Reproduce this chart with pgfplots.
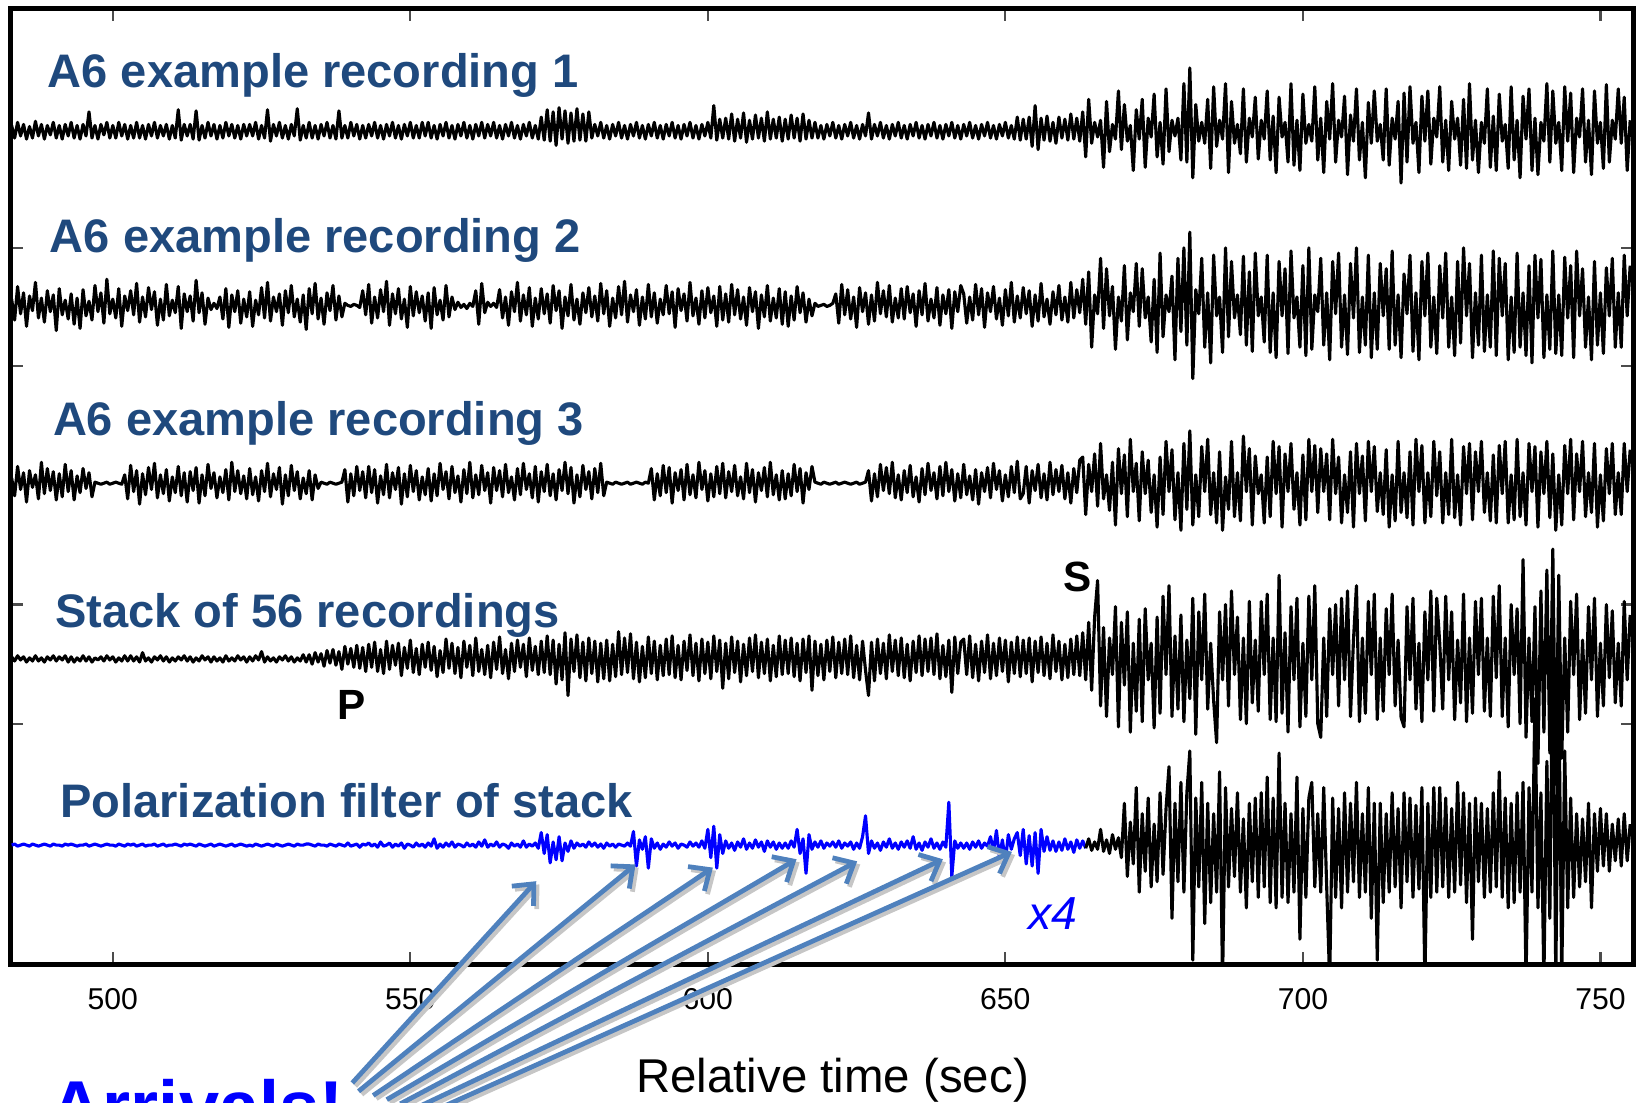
\documentclass[border=0pt]{standalone}
\usepackage{pgfplots}
\pgfplotsset{compat=1.18}
\usepackage{pgfplotstable}
\usepackage{fontspec}
\setmainfont{Liberation Sans}
\usetikzlibrary{arrows.meta}
\definecolor{labelblue}{HTML}{1F497D}
\definecolor{arrowblue}{HTML}{4F81BD}

% t = time (s); a..e = trace offsets (rec1, rec2, rec3, stack, polarization)
\pgfplotstableread{
t a b c d e
483.0 5 6 5 2 0
483.5 -7 -14 -12 -2 1
484.0 8 18 16 3 -1
484.5 -5 -8 -6 -1 0
485.0 6 12 10 2 1
485.5 -8 -20 -18 -3 0
486.0 4 9 12 1 -1
486.5 -7 -5 -4 -2 1
487.0 9 22 8 3 0
487.5 -5 -12 -15 -2 -1
488.0 6 7 20 1 0
488.5 -8 -16 -10 -3 1
489.0 5 14 14 2 0
489.5 -4 -6 -7 -1 -1
490.0 8 10 11 3 1
490.5 -7 -24 -16 -2 0
491.0 5 16 9 2 0
491.5 -8 -9 -13 -1 -1
492.0 6 5 18 3 1
492.5 -5 -13 -8 -3 0
493.0 8 11 12 2 1
493.5 -7 -18 -16 -3 0
494.0 5 7 7 1 -1
494.5 -8 -22 -9 -2 0
495.0 6 15 14 3 0
495.5 -5 -10 -5 -2 1
496.0 18 4 10 2 -1
496.5 -7 -14 -13 -3 0
497.0 5 19 1 1 1
497.5 -8 -6 0 -1 0
498.0 6 12 -1 2 -1
498.5 -4 -17 0 -2 0
499.0 8 25 1 3 1
499.5 -7 -8 -1 -1 0
500.0 5 6 0 2 0
500.5 -7 -12 1 -3 -1
501.0 8 16 0 1 1
501.5 -5 -20 -1 -2 0
502.0 6 9 8 3 -1
502.5 -8 -5 -15 -2 1
503.0 5 14 17 3 0
503.5 -7 -9 -8 -2 1
504.0 8 21 12 2 -1
504.5 -7 -16 -20 -3 0
505.0 5 8 9 6 1
505.5 -8 -11 -11 -2 -1
506.0 6 17 15 1 0
506.5 -5 -4 -6 -3 0
507.0 8 13 19 2 1
507.5 -7 -19 -14 -1 -1
508.0 5 6 8 3 0
508.5 -5 -14 -10 -2 1
509.0 6 20 13 2 -1
509.5 -8 -10 -17 -3 0
510.0 5 5 6 1 0
510.5 -7 -7 -9 -2 1
511.0 20 18 16 2 0
511.5 -9 -22 -12 -1 -1
512.0 6 11 10 3 1
512.5 -5 -6 -18 -2 0
513.0 6 9 11 2 1
513.5 -8 -15 -7 -3 0
514.0 19 24 15 1 -1
514.5 -9 -7 -19 -2 1
515.0 5 12 8 3 0
515.5 -7 -18 -12 -1 -1
516.0 8 7 18 2 0
516.5 -5 -4 -5 -3 1
517.0 6 2 10 2 -1
517.5 -8 -3 -14 -2 0
518.0 5 8 6 1 1
518.5 -7 -13 -9 -3 0
519.0 8 16 13 3 -1
519.5 -5 -21 -16 -2 0
520.0 6 10 20 1 1
520.5 -7 -6 -8 -2 -1
521.0 5 14 12 3 0
521.5 -8 -17 -10 -1 1
522.0 6 6 7 2 0
522.5 -5 -11 -15 -3 -1
523.0 6 13 14 2 0
523.5 -5 -20 -11 -2 -1
524.0 8 5 6 3 1
524.5 -8 -9 -17 -1 0
525.0 5 17 12 7 -1
525.5 -7 -12 -8 -3 0
526.0 20 22 19 2 1
526.5 -10 -15 -13 -2 0
527.0 6 8 9 1 -1
527.5 -5 -6 -6 -3 1
528.0 8 11 15 2 0
528.5 -7 -19 -20 -1 -1
529.0 5 14 8 3 0
529.5 -8 -7 -12 -2 1
530.0 6 19 17 2 0
530.5 -5 -11 -7 -3 -1
531.0 21 6 11 1 1
531.5 -9 -16 -15 -2 0
532.0 5 10 5 4 0
532.5 -7 -23 -10 -3 1
533.0 8 16 12 4 1
533.5 -7 -8 -16 -5 0
534.0 5 21 8 6 -1
534.5 -8 -13 -5 -3 1
535.0 6 7 1 5 0
535.5 -5 -18 0 -7 0
536.0 8 12 -1 8 -1
536.5 -7 -5 1 -4 1
537.0 5 19 0 9 0
537.5 -8 -14 -1 -6 -1
538.0 19 9 0 7 1
538.5 -7 -11 1 -10 0
539.0 5 2 13 12 -1
539.5 -7 0 -18 -5 2
540.0 8 -1 9 10 -1
540.5 -5 1 -12 -8 0
541.0 6 0 16 13 1
541.5 -8 -2 -7 -9 -2
542.0 5 14 11 11 1
542.5 -7 -9 -14 -12 0
543.0 6 20 16 14 2
543.5 -5 -17 -9 -8 -1
544.0 8 8 13 16 1
544.5 -7 -12 -19 -12 -2
545.0 5 15 7 9 3
545.5 -8 -6 -11 -14 -1
546.0 6 23 18 17 0
546.5 -5 -19 -14 -10 2
547.0 8 11 10 13 -2
547.5 -7 -8 -6 -6 1
548.0 5 16 15 15 -1
548.5 -8 -13 -20 -16 2
549.0 6 6 9 11 -3
549.5 -5 -21 -13 -9 1
550.0 8 18 17 18 0
550.5 -7 -10 -8 -13 -2
551.0 5 13 12 10 2
551.5 -7 -7 -16 -15 -1
552.0 8 9 6 14 1
552.5 -5 -15 -11 -8 -2
553.0 8 12 14 16 2
553.5 -7 -22 -17 -11 -1
554.0 5 17 9 12 6
554.5 -8 -9 -12 -17 -3
555.0 6 5 19 8 1
555.5 -5 -14 -6 -13 -2
556.0 8 19 11 19 2
556.5 -7 -11 -15 -9 -1
557.0 5 8 16 15 3
557.5 -8 -4 -9 -14 -2
558.0 6 3 7 11 1
558.5 -5 -2 -18 -18 0
559.0 8 1 13 17 -2
559.5 -7 -3 -10 -8 2
560.0 5 2 20 13 -1
560.5 -8 -1 -14 -16 1
561.0 6 14 8 20 -2
561.5 -5 -18 -11 -12 3
562.0 8 21 17 9 -1
562.5 -7 -7 -7 -15 5
563.0 6 3 10 13 -2
563.5 -5 -1 -19 -18 1
564.0 8 2 15 16 -1
564.5 -7 -2 -7 -10 3
565.0 5 15 12 21 -2
565.5 -8 -12 -13 -14 1
566.0 6 8 18 9 0
566.5 -5 -19 -9 -19 -3
567.0 8 13 6 15 2
567.5 -7 -6 -16 -12 -1
568.0 5 22 14 18 1
568.5 -8 -15 -11 -8 -2
569.0 6 10 19 14 4
569.5 -5 -9 -6 -17 -2
570.0 8 17 9 20 1
570.5 -7 -20 -14 -11 -1
571.0 5 7 16 12 2
571.5 -8 -13 -18 -15 -3
572.0 13 16 11 17 12
572.5 -9 -8 -8 -13 -8
573.0 20 11 18 22 10
573.5 -10 -17 -12 -15 -17
574.0 18 19 9 18 3
574.5 -14 -5 -16 -24 -14
575.0 22 14 13 14 8
575.5 -8 -22 -7 -20 -15
576.0 19 8 20 25 2
576.5 -12 -10 -10 -35 -6
577.0 17 20 15 19 4
577.5 -10 -14 -19 -12 -3
578.0 21 6 8 23 2
578.5 -9 -18 -13 -18 -1
579.0 16 12 17 16 1
579.5 -10 -7 -6 -21 -2
580.0 18 17 11 20 3
580.5 -7 -11 -15 -14 -1
581.0 6 9 14 17 2
581.5 -5 -15 -9 -22 -2
582.0 8 21 19 15 1
582.5 -7 -8 -12 -19 -3
583.0 5 14 1 18 2
583.5 -8 -20 0 -21 -1
584.0 6 7 -1 14 1
584.5 -5 -12 1 -17 -2
585.0 8 18 0 26 1
585.5 -7 -9 -1 -15 0
586.0 5 23 0 20 -1
586.5 -8 -16 1 -13 2
587.0 6 10 -1 24 -1
587.5 -5 -6 0 -19 13
588.0 8 15 1 16 -20
588.5 -7 -19 0 -22 5
589.0 5 8 -1 12 -4
589.5 -8 -13 1 -18 8
590.0 6 20 0 21 -22
590.5 -5 -11 14 -14 6
591.0 8 12 -16 17 -3
591.5 -7 -17 9 -20 2
592.0 5 6 -12 13 -4
592.5 -8 -9 17 -16 1
593.0 6 19 -9 19 -2
593.5 -5 -8 15 -15 3
594.0 8 13 -19 22 -1
594.5 -7 -21 10 -18 2
595.0 5 16 -7 13 -3
595.5 -8 -5 13 -20 1
596.0 6 11 -16 17 0
596.5 -5 -15 18 -11 -2
597.0 8 22 -11 23 3
597.5 -7 -10 8 -16 -1
598.0 5 7 -14 15 2
598.5 -8 -18 20 -21 -2
599.0 6 14 -6 19 4
599.5 -5 -12 12 -14 -3
600.0 8 17 -17 16 15
600.5 -7 -7 9 -19 -12
601.0 24 9 -13 22 18
601.5 -9 -20 16 -12 -22
602.0 11 18 -10 18 10
602.5 -7 -14 19 -28 -8
603.0 12 11 -14 15 4
603.5 -8 -16 11 -19 -3
604.0 16 20 -8 21 2
604.5 -10 -9 17 -13 -5
605.0 11 15 -12 17 3
605.5 -7 -13 6 -22 -2
606.0 17 8 -15 14 6
606.5 -11 -19 19 -16 -4
607.0 10 17 -9 20 2
607.5 -8 -6 13 -12 -3
608.0 15 13 -18 23 5
608.5 -7 -22 10 -18 -2
609.0 12 10 -7 16 3
609.5 -10 -11 15 -14 -6
610.0 18 19 -13 19 4
610.5 -8 -15 20 -21 -2
611.0 11 7 -11 13 3
611.5 -7 -12 8 -17 -4
612.0 13 16 -16 22 2
612.5 -10 -18 12 -15 -3
613.0 11 13 -15 18 2
613.5 -8 -20 9 -14 -3
614.0 15 9 -12 20 4
614.5 -7 -14 18 -17 -2
615.0 12 18 -8 15 15
615.5 -10 -7 14 -21 -8
616.0 16 12 -19 19 6
616.5 -8 -16 10 -13 -27
617.0 10 6 -6 22 10
617.5 -7 -10 16 -30 -4
618.0 8 2 1 17 3
618.5 -7 -1 0 -16 -2
619.0 5 0 -1 14 4
619.5 -8 1 1 -20 -3
620.0 6 -1 0 18 2
620.5 -5 0 -1 -12 -1
621.0 8 2 0 21 3
621.5 -7 11 1 -18 -2
622.0 5 -17 -1 16 4
622.5 -8 20 0 -14 -3
623.0 6 -9 1 19 2
623.5 -5 15 0 -15 -1
624.0 8 -13 -1 22 3
624.5 -7 8 0 -18 -4
625.0 5 -21 1 13 2
625.5 -8 17 -1 -20 -3
626.0 6 -6 0 17 8
626.5 -5 12 1 -11 28
627.0 17 -18 12 -35 -8
627.5 -8 10 -17 16 4
628.0 6 -15 9 -21 -3
628.5 -5 22 -13 19 2
629.0 8 -8 18 -14 -5
629.5 -7 14 -7 15 3
630.0 5 -11 15 -19 -2
630.5 -8 19 -10 23 6
631.0 6 -16 20 -12 -3
631.5 -5 7 -14 18 2
632.0 8 -12 8 -16 -4
632.5 -7 16 -16 20 3
633.0 5 -13 12 -18 -2
633.5 -8 18 -9 14 4
634.0 6 -7 17 -21 -3
634.5 -5 11 -13 17 8
635.0 8 -20 6 -13 -4
635.5 -7 14 -18 22 2
636.0 5 -9 14 -16 -5
636.5 -8 21 -11 19 3
637.0 6 -15 19 -12 -2
637.5 -5 6 -7 20 6
638.0 8 -12 10 -15 -3
638.5 -7 17 -15 24 2
639.0 5 -19 16 -19 -4
639.5 -8 10 -12 13 3
640.0 6 -8 20 -17 -2
640.5 -5 15 -8 18 41
641.0 8 -22 13 -32 -30
641.5 -7 13 -17 21 4
642.0 5 -6 9 -14 -3
642.5 -8 19 -14 16 2
643.0 6 11 18 19 -3
643.5 -5 -17 -11 -15 2
644.0 8 8 7 22 -4
644.5 -7 -14 -16 -18 3
645.0 5 20 13 14 -2
645.5 -8 -9 -20 -21 4
646.0 6 16 10 17 -3
646.5 -5 -21 -8 -13 2
647.0 8 12 15 23 -1
647.5 -7 -6 -14 -19 8
648.0 5 18 19 15 -6
648.5 -8 -13 -6 -16 14
649.0 6 7 12 20 -12
649.5 -5 -19 -17 -12 5
650.0 8 15 8 18 -15
650.5 -7 -10 -13 -22 10
651.0 5 22 16 16 -4
651.5 -8 -16 -9 -14 6
652.0 13 9 21 21 12
652.5 -9 -12 -15 -17 -10
653.0 11 17 -10 18 15
653.5 -8 -8 16 -14 -18
654.0 13 14 -19 20 9
654.5 -15 -20 12 -22 -20
655.0 24 10 -7 17 12
655.5 -18 -15 18 -13 -27
656.0 12 21 -14 21 15
656.5 -9 -11 9 -16 -6
657.0 14 6 -16 15 8
657.5 -10 -18 20 -19 -5
658.0 8 13 -11 23 4
658.5 -12 -9 13 -12 -6
659.0 13 19 -8 17 3
659.5 -7 -14 17 -20 -5
660.0 11 8 -15 14 6
660.5 -9 -16 10 -18 -4
661.0 16 22 -19 19 3
661.5 -8 -12 14 -15 -7
662.0 12 15 -9 22 5
662.5 -10 -7 22 -16 -3
663.0 18 25 25 25 4
663.5 -25 -18 -30 -20 -3
664.0 30 32 18 35 6
664.5 -12 -40 -8 -30 -5
665.0 8 10 28 40 3
665.5 -6 -8 -22 75 -4
666.0 10 45 38 -45 15
666.5 -35 -22 -15 30 -6
667.0 28 35 8 -55 5
667.5 -20 -10 -26 20 -8
668.0 6 18 20 -15 10
668.5 -8 -42 -40 50 -4
669.0 38 8 33 -65 7
669.5 -18 -15 -10 35 -12
670.0 25 38 27 -25 40
670.5 -10 -33 -32 45 -30
671.0 5 12 42 -70 22
671.5 -38 -6 -8 15 -18
672.0 20 40 19 -50 55
672.5 -8 -20 -36 38 -45
673.0 30 35 30 -60 30
673.5 -35 -12 -10 48 -25
674.0 12 8 22 -20 45
674.5 -6 -35 -28 15 -40
675.0 35 25 8 -66 20
675.5 -25 -45 -42 40 -35
676.0 8 50 25 -52 50
676.5 -32 -30 -30 60 -28
677.0 40 10 40 -15 35
677.5 -20 -6 -8 70 75
678.0 10 28 32 -55 -70
678.5 -5 -52 -35 22 40
679.0 12 45 10 -48 -35
679.5 -28 -25 -45 42 60
680.0 45 55 38 -60 -45
680.5 -30 -38 -25 18 50
681.0 60 70 50 -38 90
681.5 -45 -70 -40 58 -110
682.0 25 15 8 -72 45
682.5 -10 -8 -32 45 -40
683.0 8 45 35 -20 60
683.5 -12 -40 -8 62 -75
684.0 30 12 42 -48 40
684.5 -36 -55 -30 15 -55
685.0 42 48 10 -40 30
685.5 -15 -10 -38 -80 -45
686.0 10 8 30 45 70
686.5 -8 -45 -45 -20 -130
687.0 45 55 6 52 55
687.5 -40 -30 -25 -45 -40
688.0 28 42 40 65 35
688.5 -12 -12 -32 -15 -30
689.0 6 10 10 40 50
689.5 -22 -28 -36 -58 -45
690.0 40 47 45 20 25
690.5 -30 -38 -8 -62 -60
691.0 12 32 33 55 40
691.5 -6 -44 -40 -42 -35
692.0 32 50 26 18 45
692.5 -27 -10 -10 -50 -50
693.0 10 8 8 55 50
693.5 -8 -35 -38 -15 -40
694.0 38 48 25 62 65
694.5 -28 -45 -32 -58 -55
695.0 14 12 40 20 45
695.5 -40 -50 -10 -60 -60
696.0 32 42 35 80 88
696.5 -6 -10 -42 -52 -50
697.0 8 35 28 25 40
697.5 -30 -46 -8 -70 -55
698.0 45 52 38 50 30
698.5 -33 -12 -25 -20 -45
699.0 10 8 10 58 65
699.5 -38 -40 -40 -65 -90
700.0 35 38 27 15 35
700.5 -12 -48 -35 -55 -50
701.0 6 55 42 60 45
701.5 -10 -42 -8 -20 60
702.0 42 10 36 70 -40
702.5 -28 -6 -28 -62 30
703.0 12 45 33 -75 -45
703.5 -40 -38 -8 20 55
704.0 28 12 28 -55 -40
704.5 -8 -52 -35 48 -130
705.0 45 42 42 -15 45
705.5 -30 -8 -10 52 -50
706.0 10 50 25 -45 35
706.5 -6 -40 -38 58 -60
707.0 33 10 8 -20 50
707.5 -42 -47 -28 65 -45
708.0 15 40 30 -55 40
708.5 -10 -12 -42 18 -35
709.0 40 55 38 70 60
709.5 -28 -45 -10 -60 -50
710.0 8 8 26 20 30
710.5 -45 -38 -36 -52 -45
711.0 27 48 40 55 55
711.5 -12 -50 -8 -15 -70
712.0 38 12 35 62 40
712.5 -10 -42 -27 -58 -110
713.0 6 40 10 20 40
713.5 -28 -10 -30 -50 -55
714.0 40 35 32 48 30
714.5 -33 -42 -42 -15 -45
715.0 12 52 8 62 50
715.5 -8 -38 -36 -45 -40
716.0 28 10 40 18 35
716.5 -50 -50 -28 -56 -60
717.0 36 30 10 -65 50
717.5 -30 -8 -33 50 -35
718.0 42 48 30 -20 45
718.5 -12 -44 -40 58 -50
719.0 8 12 42 -48 38
719.5 -40 -52 -8 15 -42
720.0 33 42 36 -60 55
720.5 -10 -10 -38 45 -130
721.0 38 50 10 -20 40
721.5 -32 -40 -32 65 -50
722.0 12 8 40 -50 55
722.5 -6 -46 -12 58 -45
723.0 42 38 30 15 55
723.5 -30 -12 -38 -48 -40
724.0 10 50 10 60 45
724.5 -38 -40 -30 -20 -50
725.0 28 8 42 45 35
725.5 -8 -48 -33 -58 -45
726.0 12 42 8 18 60
726.5 -33 -36 -40 -42 -38
727.0 30 55 35 62 50
727.5 -36 -10 -10 -60 -55
728.0 45 40 38 20 40
728.5 -28 -50 -35 -52 -90
729.0 10 12 30 55 45
729.5 -40 -38 -8 -15 -35
730.0 8 48 40 58 40
730.5 -12 -44 -28 -50 -50
731.0 40 10 10 20 35
731.5 -35 -40 -36 -55 -45
732.0 14 52 27 60 50
732.5 -38 -48 -38 -18 -40
733.0 35 45 36 70 70
733.5 -10 -10 -10 -55 -50
734.0 6 40 40 20 45
734.5 -36 -52 -38 -65 -60
735.0 42 8 8 52 40
735.5 -28 -45 -35 -15 -55
736.0 10 50 42 48 50
736.5 -45 -40 -32 -62 -45
737.0 33 12 10 95 60
737.5 -8 -48 -40 -75 -130
738.0 40 38 38 20 55
738.5 -38 -55 -8 -60 -45
739.0 12 48 35 50 140
739.5 -42 -12 -42 -100 -60
740.0 8 44 30 65 50
740.5 -10 -50 -10 -70 -130
741.0 45 10 40 85 80
741.5 -30 -42 -33 -90 -70
742.0 38 52 28 105 200
742.5 -12 -46 -45 -120 -130
743.0 8 10 8 80 160
743.5 -38 -48 -40 -95 -130
744.0 42 46 36 20 90
744.5 -10 -12 -10 -70 -60
745.0 36 38 42 55 45
745.5 -40 -50 -35 -15 -50
746.0 12 52 28 62 30
746.5 -6 -10 -8 -58 -40
747.0 40 35 40 18 25
747.5 -30 -40 -32 -52 -35
748.0 10 8 10 50 40
748.5 -42 -52 -28 -20 -60
749.0 38 42 38 58 30
749.5 -12 -38 -42 -55 -25
750.0 8 12 8 15 35
750.5 -36 -46 -36 -45 -20
751.0 44 36 33 52 30
751.5 -30 -10 -10 -18 -25
752.0 10 45 38 46 20
752.5 -8 -40 -30 -42 -15
753.0 40 12 10 15 25
753.5 -12 -40 -30 -45 -20
754.0 32 48 38 55 30
754.5 -38 -10 -8 -20 -15
755.0 10 38 32 42 20
}\data

\begin{document}
\begin{tikzpicture}
\useasboundingbox (0,0) rectangle (15.68cm,10.54cm);
\clip (0,0) rectangle (15.68cm,10.54cm);
\begin{axis}[
  at={(0.1cm,1.32cm)}, anchor=south west,
  scale only axis, width=15.52cm, height=9.14cm,
  xmin=482.8, xmax=755.6, ymin=0, ymax=914,
  xtick={500,550,600,650,700,750},
  ytick={230,344,572,685}, yticklabels={},
  tick align=inside,
  major tick length=0.12cm,
  axis line style={line width=1.3pt},
  every tick/.style={black!70, line width=0.6pt},
  xticklabel style={font=\fontsize{8.2}{10}\selectfont},
  xticklabel shift=3pt,
  /pgf/number format/assume math mode=true,
  /pgf/number format/1000 sep={},
]
\addplot[black, line width=0.85pt, line join=round] table[x=t, y expr=\thisrow{a}+797] {\data};
\addplot[black, line width=0.85pt, line join=round] table[x=t, y expr=\thisrow{b}+630] {\data};
\addplot[black, line width=0.85pt, line join=round] table[x=t, y expr=\thisrow{c}+460] {\data};
\addplot[black, line width=0.85pt, line join=round] table[x=t, y expr=\thisrow{d}+292] {\data};
\addplot[blue, line width=0.85pt, line join=round, restrict x to domain=483:663.5] table[x=t, y expr=\thisrow{e}+114] {\data};
\addplot[black, line width=0.85pt, line join=round, restrict x to domain=663.5:756] table[x=t, y expr=\thisrow{e}+114] {\data};
\end{axis}
\begin{scope}[x=0.01cm, y=-0.01cm, shift={(0cm,10.54cm)}]
\tikzset{lab/.style={anchor=base west, inner sep=0pt, text=labelblue, font=\bfseries\fontsize{12.8}{14}\selectfont}}
\node[lab] at (45,84) {A6 example recording 1};
\node[lab] at (47,242) {A6 example recording 2};
\node[lab] at (50,417) {A6 example recording 3};
\node[lab] at (52,600) {Stack of 56 recordings};
\node[lab] at (57,782) {Polarization filter of stack};
\node[anchor=base west, inner sep=0pt, font=\bfseries\fontsize{11.5}{13}\selectfont] at (1017,566) {S};
\node[anchor=base west, inner sep=0pt, font=\bfseries\fontsize{11.5}{13}\selectfont] at (322,688) {P};
\node[anchor=base west, inner sep=0pt, text=blue, font=\itshape\fontsize{12.6}{14}\selectfont] at (983,889) {x4};
\node[anchor=base west, inner sep=0pt, font=\fontsize{12.9}{15}\selectfont] at (608,1045) {Relative time (sec)};
\node[anchor=base west, inner sep=0pt, text=blue, font=\bfseries\fontsize{19.6}{22}\selectfont] at (48,1082) {Arrivals!};
\foreach \sx/\sy/\ex/\ey in {337/1036/513/843, 343/1044/608/827, 357/1048/682/830, 370/1052/762/822, 383/1056/820/824, 398/1060/902/822, 412/1064/968/815} {
  \draw[gray!45, line width=1.3pt, -{Straight Barb[length=4.5pt, width=8pt]}] ([shift={(0.03cm,-0.03cm)}]\sx,\sy) -- ([shift={(0.03cm,-0.03cm)}]\ex,\ey);
  \draw[arrowblue, line width=1.3pt, -{Straight Barb[length=4.5pt, width=8pt]}] (\sx,\sy) -- (\ex,\ey);
}
\end{scope}
\end{tikzpicture}
\end{document}
